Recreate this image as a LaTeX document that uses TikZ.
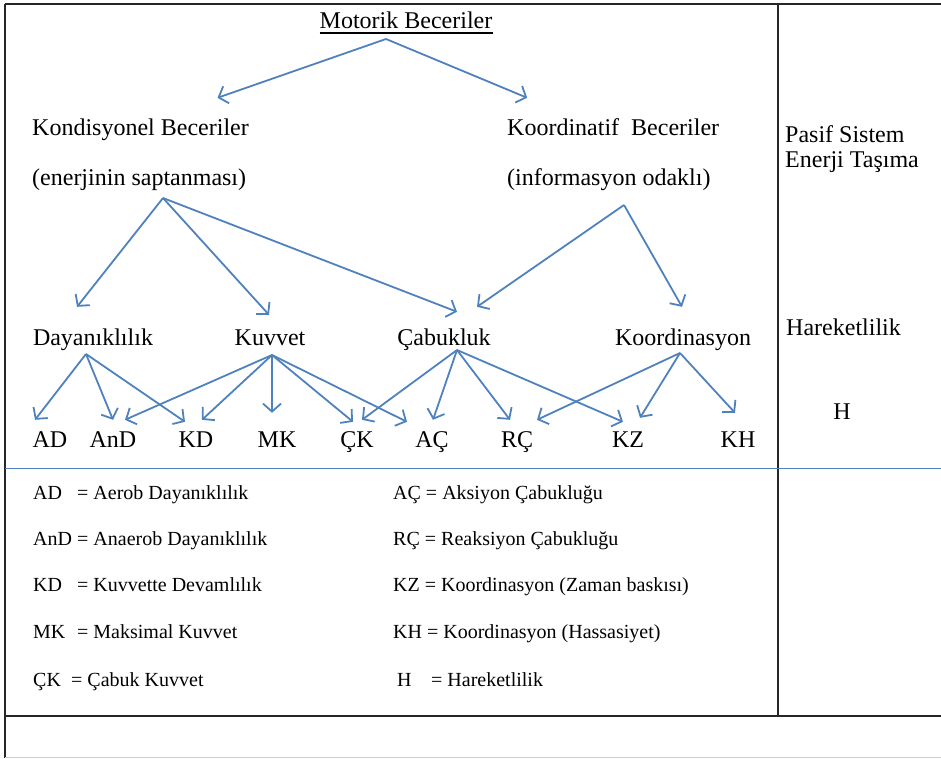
\documentclass[tikz,border=0pt]{standalone}
\usepackage{fontspec}
\setmainfont{Liberation Serif}
\usetikzlibrary{arrows.meta}
\definecolor{arrowblue}{RGB}{79,129,189}
\tikzset{
    lbl/.style={inner sep=0pt, text height=16pt, text depth=5pt, font=\fontsize{24}{28}\selectfont},
    key/.style={inner sep=0pt, anchor=base west, font=\fontsize{20}{24}\selectfont},
    arr/.style={draw=arrowblue, line width=1.8pt, -{Straight Barb[length=8pt,width=18pt,line width=1.8pt]}},
    frame/.style={draw=black!85, line width=2pt},
}
\newcommand{\abbr}[2]{\makebox[#1][l]{#2}}

\begin{document}
\begin{tikzpicture}[x=1pt, y=-1pt]
    \useasboundingbox (0,0) rectangle (941,758);

    % table lines
    \draw[frame] (5,4) -- (941,4);
    \draw[frame] (5,4) -- (5,758);
    \draw[frame, line width=1.5pt] (778,4) -- (778,716);
    \draw[frame] (5,716) -- (941,716);
    \draw[draw=arrowblue, line width=1pt] (5,468) -- (941,468);
    \draw[black!20, line width=1pt] (5,757) -- (941,757);

    % top
    \node[lbl, anchor=base] (motorik) at (406,28) {Motorik Beceriler};
    \draw[line width=1.2pt] ([yshift=-5pt]motorik.base west) -- ([yshift=-5pt]motorik.base east);

    \node[lbl, anchor=base west] (kondi) at (32,135) {Kondisyonel Beceriler};
    \node[lbl, anchor=base west] (enerji) at (32,185) {(enerjinin saptanması)};
    \node[lbl, anchor=base west] (koordi) at (507,135) {Koordinatif\ \ Beceriler};
    \node[lbl, anchor=base west] (inform) at (507,185) {(informasyon odaklı)};

    % level 2
    \node[lbl, anchor=base] (dayan) at (93,345) {Dayanıklılık};
    \node[lbl, anchor=base] (kuvvet) at (270,345) {Kuvvet};
    \node[lbl, anchor=base] (cabuk) at (444,345) {Çabukluk};
    \node[lbl, anchor=base] (koord) at (683,345) {Koordinasyon};

    % level 3
    \node[lbl, anchor=base] (ad) at (50,447) {AD};
    \node[lbl, anchor=base] (anD) at (113,447) {AnD};
    \node[lbl, anchor=base] (kd) at (196,447) {KD};
    \node[lbl, anchor=base] (mk) at (277,447) {MK};
    \node[lbl, anchor=base] (ck) at (357,447) {ÇK};
    \node[lbl, anchor=base] (ac) at (432,447) {AÇ};
    \node[lbl, anchor=base] (rc) at (517,447) {RÇ};
    \node[lbl, anchor=base] (kz) at (628,447) {KZ};
    \node[lbl, anchor=base] (kh) at (738,447) {KH};

    % right column
    \node[lbl, anchor=base west] (pasif) at (785,142) {Pasif Sistem};
    \node[lbl, anchor=base west] (enerjit) at (785,167) {Enerji Taşıma};
    \node[lbl, anchor=base west] (harek) at (786,335) {Hareketlilik};
    \node[lbl, anchor=base] (h) at (842,419) {H};

    % arrow hubs
    \coordinate (motorik-hub) at (386,39);
    \coordinate (kondi-hub) at (163,198);
    \coordinate (koordi-hub) at (624,205);
    \coordinate (dayan-hub) at (86,354);
    \coordinate (kuvvet-hub) at (272,355);
    \coordinate (cabuk-hub) at (457,350);
    \coordinate (koord-hub) at (680,353);

    \draw[arr] (motorik-hub) -- ([xshift=77pt,yshift=21pt]kondi.north);
    \draw[arr] (motorik-hub) -- ([xshift=-86pt,yshift=21pt]koordi.north);

    \draw[arr] (kondi-hub) -- ([xshift=-16pt,yshift=22pt]dayan.north);
    \draw[arr] (kondi-hub) -- ([xshift=-1pt,yshift=14pt]kuvvet.north);
    \draw[arr] (kondi-hub) -- ([xshift=13pt,yshift=17pt]cabuk.north);
    \draw[arr] (koordi-hub) -- ([xshift=33pt,yshift=22pt]cabuk.north);
    \draw[arr] (koordi-hub) -- ([xshift=-1pt,yshift=22pt]koord.north);

    \draw[arr] (dayan-hub) -- ([xshift=-15pt,yshift=11pt]ad.north);
    \draw[arr] (dayan-hub) -- ([yshift=11pt]anD.north);
    \draw[arr] (dayan-hub) -- ([xshift=-11pt,yshift=9pt]kd.north);

    \draw[arr] (kuvvet-hub) -- ([xshift=12pt,yshift=11pt]anD.north);
    \draw[arr] (kuvvet-hub) -- ([xshift=6pt,yshift=11pt]kd.north);
    \draw[arr] (kuvvet-hub) -- ([xshift=-5pt,yshift=18pt]mk.north);
    \draw[arr] (kuvvet-hub) -- ([xshift=-4pt,yshift=9pt]ck.north);
    \draw[arr] (kuvvet-hub) -- ([xshift=-25pt,yshift=9pt]ac.north);

    \draw[arr] (cabuk-hub) -- ([xshift=5pt,yshift=11pt]ck.north);
    \draw[arr] (cabuk-hub) -- ([xshift=1pt,yshift=11pt]ac.north);
    \draw[arr] (cabuk-hub) -- ([xshift=-7pt,yshift=11pt]rc.north);
    \draw[arr] (cabuk-hub) -- ([xshift=-5pt,yshift=9pt]kz.north);

    \draw[arr] (koord-hub) -- ([xshift=20pt,yshift=11pt]rc.north);
    \draw[arr] (koord-hub) -- ([xshift=12pt,yshift=13pt]kz.north);
    \draw[arr] (koord-hub) -- ([xshift=-3pt,yshift=18pt]kh.north);

    % legend
    \node[key] (key-ad) at (33,499) {\abbr{44pt}{AD}= Aerob Dayanıklılık};
    \node[key] (key-and) at (33,545) {\abbr{44pt}{AnD}= Anaerob Dayanıklılık};
    \node[key] (key-kd) at (33,591) {\abbr{44pt}{KD}= Kuvvette Devamlılık};
    \node[key] (key-mk) at (33,638) {\abbr{44pt}{MK}= Maksimal Kuvvet};
    \node[key] (key-ck) at (33,686) {\abbr{38pt}{ÇK}= Çabuk Kuvvet};

    \node[key] (key-ac) at (393,499) {AÇ = Aksiyon Çabukluğu};
    \node[key] (key-rc) at (393,545) {RÇ = Reaksiyon Çabukluğu};
    \node[key] (key-kz) at (393,591) {KZ = Koordinasyon (Zaman baskısı)};
    \node[key] (key-kh) at (393,638) {KH = Koordinasyon (Hassasiyet)};
    \node[key] (key-h) at (397,686) {\abbr{34pt}{H}= Hareketlilik};
\end{tikzpicture}
\end{document}
